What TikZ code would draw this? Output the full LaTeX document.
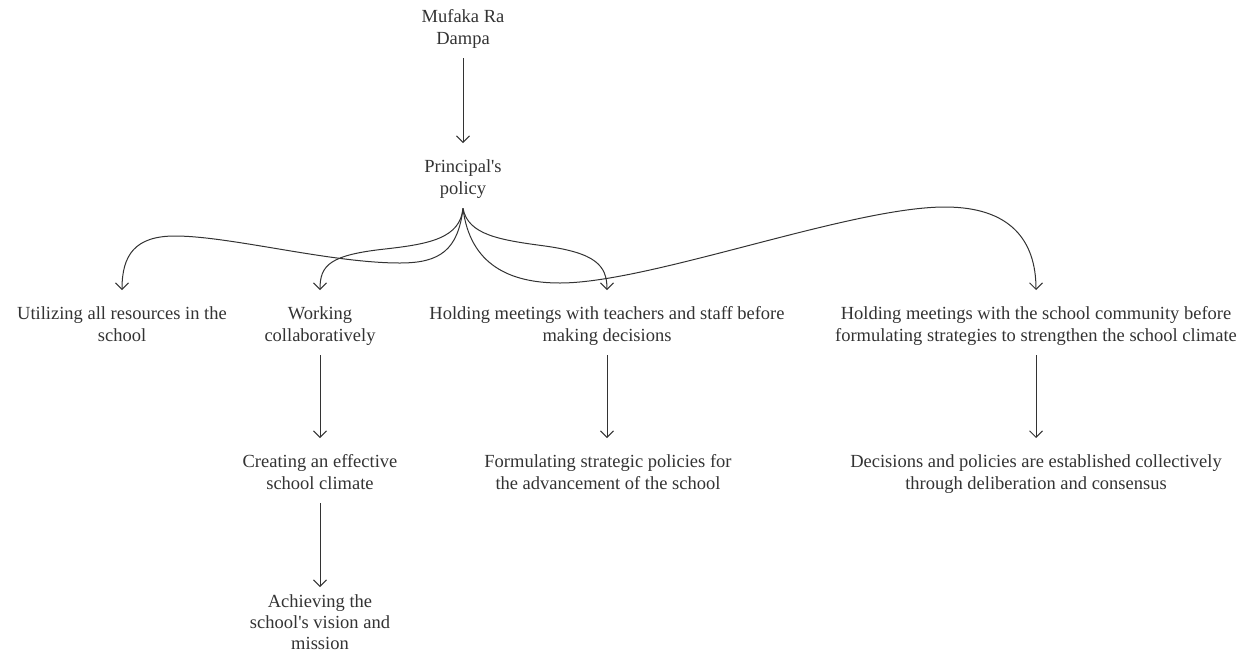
\documentclass[tikz,border=0pt]{standalone}
\usepackage{fontspec}
\setmainfont{Liberation Serif}[Ligatures=TeXOff]
\usetikzlibrary{arrows.meta}
\definecolor{txt}{HTML}{333333}
\definecolor{ln}{HTML}{333333}
\newcommand{\fs}{\fontsize{18.5}{22}\selectfont}
\newcommand{\topst}{\rule{0pt}{29pt}}
\newcommand{\botst}{\rule[-14pt]{0pt}{14pt}}
\tikzset{
  lbl/.style={align=center, inner xsep=0pt, inner ysep=0pt, font=\fs, text=txt, anchor=north},
  arr/.style={draw=ln, line width=1pt, -{Straight Barb[length=6.5pt,width=13pt]}}
}
\begin{document}
\begin{tikzpicture}[x=1pt,y=-1pt]
\useasboundingbox (0,0) rectangle (1243,649);
\node[lbl] (top) at (463,-7) {\topst Mufaka Ra\\Dampa\botst};
\node[lbl] (pp) at (463,143) {\topst Principal's\\policy\botst};
\node[lbl] (util) at (122,290) {\topst Utilizing all resources in the\\school\botst};
\node[lbl] (work) at (320,290) {\topst Working\\collaboratively\botst};
\node[lbl] (hold1) at (607,290) {\topst Holding meetings with teachers and staff before\\making decisions\botst};
\node[lbl] (hold2) at (1036,290) {\topst Holding meetings with the school community before\\formulating strategies to strengthen the school climate\botst};
\node[lbl] (create) at (320,438) {\topst Creating an effective\\school climate\botst};
\node[lbl] (form) at (608,438) {\topst Formulating strategic policies for\\the advancement of the school\botst};
\node[lbl] (dec) at (1036,438) {\topst Decisions and policies are established collectively\\through deliberation and consensus\botst};
\node[lbl, font={\fontsize{18.5}{21}\selectfont}] (achieve) at (320,578) {\topst Achieving the\\school's vision and\\mission};

\draw[arr] (top.south) -- (pp.north);
\draw[arr] (work.south) -- (create.north);
\draw[arr] (create.south) -- ([yshift=-9pt]achieve.north);
\draw[arr] (hold1.south) -- (hold1.south |- form.north);
\draw[arr] (hold2.south) -- (dec.north);

\draw[arr] (pp.south) .. controls (458,250) and (440,263) .. (400,263)
  .. controls (330,263) and (230,236) .. (175,236)
  .. controls (135,236) and (122,255) .. (util.north);
\draw[arr] (pp.south) .. controls (460,238) and (430,244) .. (385,249)
  .. controls (330,255) and (320,265) .. (work.north);
\draw[arr] (pp.south) .. controls (468,235) and (500,240) .. (545,246)
  .. controls (595,253) and (607,265) .. (hold1.north);
\draw[arr] (pp.south) .. controls (470,265) and (510,283) .. (560,283)
  .. controls (650,283) and (850,207) .. (945,207)
  .. controls (1010,207) and (1036,240) .. (hold2.north);
\end{tikzpicture}
\end{document}
